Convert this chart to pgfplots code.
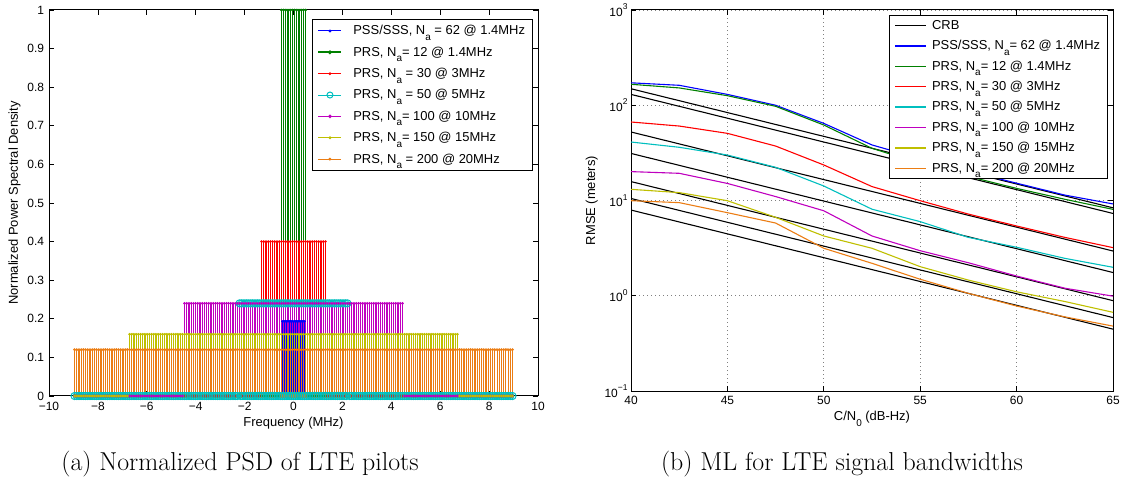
\documentclass[border=0pt]{standalone}
\usepackage{fontspec}
\setmainfont{Liberation Sans}
\newfontfamily\capfont{Latin Modern Roman}
\usepackage{pgfplots}
\usepackage{pgfplotstable}
\pgfplotsset{compat=1.18}

\definecolor{mblue}{rgb}{0,0,1}
\definecolor{mgreen}{rgb}{0,0.5,0}
\definecolor{mred}{rgb}{1,0,0}
\definecolor{mcyan}{rgb}{0,0.75,0.75}
\definecolor{mmag}{rgb}{0.75,0,0.75}
\definecolor{myel}{rgb}{0.75,0.75,0}
\definecolor{morange}{RGB}{235,125,20}

\newcommand{\sub}[1]{\raisebox{-5.5bp}{\fontsize{10}{10}\selectfont #1}}
\newcommand{\pw}[1]{10\raisebox{6.5bp}{\fontsize{8.5}{9}\selectfont #1}}

% PSS/SSS (1.4 MHz, 15 kHz spacing)
\pgfplotstableread[row sep=\\]{
f v\\
-0.465 0.1935\\ -0.450 0.1935\\ -0.435 0.1935\\ -0.420 0.1935\\ -0.405 0.1935\\
-0.390 0.1935\\ -0.375 0.1935\\ -0.360 0.1935\\ -0.345 0.1935\\ -0.330 0.1935\\
-0.315 0.1935\\ -0.300 0.1935\\ -0.285 0.1935\\ -0.270 0.1935\\ -0.255 0.1935\\
-0.240 0.1935\\ -0.225 0.1935\\ -0.210 0.1935\\ -0.195 0.1935\\ -0.180 0.1935\\
-0.165 0.1935\\ -0.150 0.1935\\ -0.135 0.1935\\ -0.120 0.1935\\ -0.105 0.1935\\
-0.090 0.1935\\ -0.075 0.1935\\ -0.060 0.1935\\ -0.045 0.1935\\ -0.030 0.1935\\
-0.015 0.1935\\
0.015 0.1935\\ 0.030 0.1935\\ 0.045 0.1935\\ 0.060 0.1935\\ 0.075 0.1935\\
0.090 0.1935\\ 0.105 0.1935\\ 0.120 0.1935\\ 0.135 0.1935\\ 0.150 0.1935\\
0.165 0.1935\\ 0.180 0.1935\\ 0.195 0.1935\\ 0.210 0.1935\\ 0.225 0.1935\\
0.240 0.1935\\ 0.255 0.1935\\ 0.270 0.1935\\ 0.285 0.1935\\ 0.300 0.1935\\
0.315 0.1935\\ 0.330 0.1935\\ 0.345 0.1935\\ 0.360 0.1935\\ 0.375 0.1935\\
0.390 0.1935\\ 0.405 0.1935\\ 0.420 0.1935\\ 0.435 0.1935\\ 0.450 0.1935\\
0.465 0.1935\\
}\tpss

% PRS on the 90 kHz grid: columns 1.4, 3, 5, 10, 15, 20 MHz
\pgfplotstableread[row sep=\\]{
f g r c m yl o\\
-8.955 0 0 0 0 0 .12\\ -8.865 0 0 0 0 0 .12\\ -8.775 0 0 0 0 0 .12\\ -8.685 0 0 0 0 0 .12\\ -8.595 0 0 0 0 0 .12\\
-8.505 0 0 0 0 0 .12\\ -8.415 0 0 0 0 0 .12\\ -8.325 0 0 0 0 0 .12\\ -8.235 0 0 0 0 0 .12\\ -8.145 0 0 0 0 0 .12\\
-8.055 0 0 0 0 0 .12\\ -7.965 0 0 0 0 0 .12\\ -7.875 0 0 0 0 0 .12\\ -7.785 0 0 0 0 0 .12\\ -7.695 0 0 0 0 0 .12\\
-7.605 0 0 0 0 0 .12\\ -7.515 0 0 0 0 0 .12\\ -7.425 0 0 0 0 0 .12\\ -7.335 0 0 0 0 0 .12\\ -7.245 0 0 0 0 0 .12\\
-7.155 0 0 0 0 0 .12\\ -7.065 0 0 0 0 0 .12\\ -6.975 0 0 0 0 0 .12\\ -6.885 0 0 0 0 0 .12\\ -6.795 0 0 0 0 0 .12\\
-6.705 0 0 0 0 .16 .12\\ -6.615 0 0 0 0 .16 .12\\ -6.525 0 0 0 0 .16 .12\\ -6.435 0 0 0 0 .16 .12\\ -6.345 0 0 0 0 .16 .12\\
-6.255 0 0 0 0 .16 .12\\ -6.165 0 0 0 0 .16 .12\\ -6.075 0 0 0 0 .16 .12\\ -5.985 0 0 0 0 .16 .12\\ -5.895 0 0 0 0 .16 .12\\
-5.805 0 0 0 0 .16 .12\\ -5.715 0 0 0 0 .16 .12\\ -5.625 0 0 0 0 .16 .12\\ -5.535 0 0 0 0 .16 .12\\ -5.445 0 0 0 0 .16 .12\\
-5.355 0 0 0 0 .16 .12\\ -5.265 0 0 0 0 .16 .12\\ -5.175 0 0 0 0 .16 .12\\ -5.085 0 0 0 0 .16 .12\\ -4.995 0 0 0 0 .16 .12\\
-4.905 0 0 0 0 .16 .12\\ -4.815 0 0 0 0 .16 .12\\ -4.725 0 0 0 0 .16 .12\\ -4.635 0 0 0 0 .16 .12\\ -4.545 0 0 0 0 .16 .12\\
-4.455 0 0 0 .24 .16 .12\\ -4.365 0 0 0 .24 .16 .12\\ -4.275 0 0 0 .24 .16 .12\\ -4.185 0 0 0 .24 .16 .12\\ -4.095 0 0 0 .24 .16 .12\\
-4.005 0 0 0 .24 .16 .12\\ -3.915 0 0 0 .24 .16 .12\\ -3.825 0 0 0 .24 .16 .12\\ -3.735 0 0 0 .24 .16 .12\\ -3.645 0 0 0 .24 .16 .12\\
-3.555 0 0 0 .24 .16 .12\\ -3.465 0 0 0 .24 .16 .12\\ -3.375 0 0 0 .24 .16 .12\\ -3.285 0 0 0 .24 .16 .12\\ -3.195 0 0 0 .24 .16 .12\\
-3.105 0 0 0 .24 .16 .12\\ -3.015 0 0 0 .24 .16 .12\\ -2.925 0 0 0 .24 .16 .12\\ -2.835 0 0 0 .24 .16 .12\\ -2.745 0 0 0 .24 .16 .12\\
-2.655 0 0 0 .24 .16 .12\\ -2.565 0 0 0 .24 .16 .12\\ -2.475 0 0 0 .24 .16 .12\\ -2.385 0 0 0 .24 .16 .12\\ -2.295 0 0 0 .24 .16 .12\\
-2.205 0 0 .24 .24 .16 .12\\ -2.115 0 0 .24 .24 .16 .12\\ -2.025 0 0 .24 .24 .16 .12\\ -1.935 0 0 .24 .24 .16 .12\\ -1.845 0 0 .24 .24 .16 .12\\
-1.755 0 0 .24 .24 .16 .12\\ -1.665 0 0 .24 .24 .16 .12\\ -1.575 0 0 .24 .24 .16 .12\\ -1.485 0 0 .24 .24 .16 .12\\ -1.395 0 0 .24 .24 .16 .12\\
-1.305 0 .4 .24 .24 .16 .12\\ -1.215 0 .4 .24 .24 .16 .12\\ -1.125 0 .4 .24 .24 .16 .12\\ -1.035 0 .4 .24 .24 .16 .12\\ -0.945 0 .4 .24 .24 .16 .12\\
-0.855 0 .4 .24 .24 .16 .12\\ -0.765 0 .4 .24 .24 .16 .12\\ -0.675 0 .4 .24 .24 .16 .12\\ -0.585 0 .4 .24 .24 .16 .12\\
-0.495 1 .4 .24 .24 .16 .12\\ -0.405 1 .4 .24 .24 .16 .12\\ -0.315 1 .4 .24 .24 .16 .12\\ -0.225 1 .4 .24 .24 .16 .12\\ -0.135 1 .4 .24 .24 .16 .12\\
-0.045 1 .4 .24 .24 .16 .12\\
0.045 1 .4 .24 .24 .16 .12\\ 0.135 1 .4 .24 .24 .16 .12\\ 0.225 1 .4 .24 .24 .16 .12\\ 0.315 1 .4 .24 .24 .16 .12\\ 0.405 1 .4 .24 .24 .16 .12\\
0.495 1 .4 .24 .24 .16 .12\\
0.585 0 .4 .24 .24 .16 .12\\ 0.675 0 .4 .24 .24 .16 .12\\ 0.765 0 .4 .24 .24 .16 .12\\ 0.855 0 .4 .24 .24 .16 .12\\ 0.945 0 .4 .24 .24 .16 .12\\
1.035 0 .4 .24 .24 .16 .12\\ 1.125 0 .4 .24 .24 .16 .12\\ 1.215 0 .4 .24 .24 .16 .12\\ 1.305 0 .4 .24 .24 .16 .12\\
1.395 0 0 .24 .24 .16 .12\\ 1.485 0 0 .24 .24 .16 .12\\ 1.575 0 0 .24 .24 .16 .12\\ 1.665 0 0 .24 .24 .16 .12\\ 1.755 0 0 .24 .24 .16 .12\\
1.845 0 0 .24 .24 .16 .12\\ 1.935 0 0 .24 .24 .16 .12\\ 2.025 0 0 .24 .24 .16 .12\\ 2.115 0 0 .24 .24 .16 .12\\ 2.205 0 0 .24 .24 .16 .12\\
2.295 0 0 0 .24 .16 .12\\ 2.385 0 0 0 .24 .16 .12\\ 2.475 0 0 0 .24 .16 .12\\ 2.565 0 0 0 .24 .16 .12\\ 2.655 0 0 0 .24 .16 .12\\
2.745 0 0 0 .24 .16 .12\\ 2.835 0 0 0 .24 .16 .12\\ 2.925 0 0 0 .24 .16 .12\\ 3.015 0 0 0 .24 .16 .12\\ 3.105 0 0 0 .24 .16 .12\\
3.195 0 0 0 .24 .16 .12\\ 3.285 0 0 0 .24 .16 .12\\ 3.375 0 0 0 .24 .16 .12\\ 3.465 0 0 0 .24 .16 .12\\ 3.555 0 0 0 .24 .16 .12\\
3.645 0 0 0 .24 .16 .12\\ 3.735 0 0 0 .24 .16 .12\\ 3.825 0 0 0 .24 .16 .12\\ 3.915 0 0 0 .24 .16 .12\\ 4.005 0 0 0 .24 .16 .12\\
4.095 0 0 0 .24 .16 .12\\ 4.185 0 0 0 .24 .16 .12\\ 4.275 0 0 0 .24 .16 .12\\ 4.365 0 0 0 .24 .16 .12\\ 4.455 0 0 0 .24 .16 .12\\
4.545 0 0 0 0 .16 .12\\ 4.635 0 0 0 0 .16 .12\\ 4.725 0 0 0 0 .16 .12\\ 4.815 0 0 0 0 .16 .12\\ 4.905 0 0 0 0 .16 .12\\
4.995 0 0 0 0 .16 .12\\ 5.085 0 0 0 0 .16 .12\\ 5.175 0 0 0 0 .16 .12\\ 5.265 0 0 0 0 .16 .12\\ 5.355 0 0 0 0 .16 .12\\
5.445 0 0 0 0 .16 .12\\ 5.535 0 0 0 0 .16 .12\\ 5.625 0 0 0 0 .16 .12\\ 5.715 0 0 0 0 .16 .12\\ 5.805 0 0 0 0 .16 .12\\
5.895 0 0 0 0 .16 .12\\ 5.985 0 0 0 0 .16 .12\\ 6.075 0 0 0 0 .16 .12\\ 6.165 0 0 0 0 .16 .12\\ 6.255 0 0 0 0 .16 .12\\
6.345 0 0 0 0 .16 .12\\ 6.435 0 0 0 0 .16 .12\\ 6.525 0 0 0 0 .16 .12\\ 6.615 0 0 0 0 .16 .12\\ 6.705 0 0 0 0 .16 .12\\
6.795 0 0 0 0 0 .12\\ 6.885 0 0 0 0 0 .12\\ 6.975 0 0 0 0 0 .12\\ 7.065 0 0 0 0 0 .12\\ 7.155 0 0 0 0 0 .12\\
7.245 0 0 0 0 0 .12\\ 7.335 0 0 0 0 0 .12\\ 7.425 0 0 0 0 0 .12\\ 7.515 0 0 0 0 0 .12\\ 7.605 0 0 0 0 0 .12\\
7.695 0 0 0 0 0 .12\\ 7.785 0 0 0 0 0 .12\\ 7.875 0 0 0 0 0 .12\\ 7.965 0 0 0 0 0 .12\\ 8.055 0 0 0 0 0 .12\\
8.145 0 0 0 0 0 .12\\ 8.235 0 0 0 0 0 .12\\ 8.325 0 0 0 0 0 .12\\ 8.415 0 0 0 0 0 .12\\ 8.505 0 0 0 0 0 .12\\
8.595 0 0 0 0 0 .12\\ 8.685 0 0 0 0 0 .12\\ 8.775 0 0 0 0 0 .12\\ 8.865 0 0 0 0 0 .12\\ 8.955 0 0 0 0 0 .12\\
}\tprs

% empty (zero) bins of the 5 MHz PRS between its pilots
\pgfplotstableread[row sep=\\]{
f v\\
-2.16 0\\ -2.07 0\\ -1.98 0\\ -1.89 0\\ -1.80 0\\ -1.71 0\\ -1.62 0\\ -1.53 0\\ -1.44 0\\ -1.35 0\\
-1.26 0\\ -1.17 0\\ -1.08 0\\ -0.99 0\\ -0.90 0\\ -0.81 0\\ -0.72 0\\ -0.63 0\\ -0.54 0\\ -0.45 0\\
-0.36 0\\ -0.27 0\\ -0.18 0\\ -0.09 0\\ 0 0\\ 0.09 0\\ 0.18 0\\ 0.27 0\\ 0.36 0\\ 0.45 0\\
0.54 0\\ 0.63 0\\ 0.72 0\\ 0.81 0\\ 0.90 0\\ 0.99 0\\ 1.08 0\\ 1.17 0\\ 1.26 0\\ 1.35 0\\
1.44 0\\ 1.53 0\\ 1.62 0\\ 1.71 0\\ 1.80 0\\ 1.89 0\\ 1.98 0\\ 2.07 0\\ 2.16 0\\
}\tczero

% RMSE vs C/N0
\pgfplotstableread[row sep=\\]{
x pss prs12 prs30 prs50 prs100 prs150 prs200\\
40   172  166  66.7 41.1 20.1 13.1 9.95\\
42.5 162  152  60.5 36.2 19.3 12.1 9.5\\
45   130  126  50.7 30.0 15.1 9.95 7.45\\
47.5 100  97.5 37.3 22.3 11.0 6.66 5.8\\
50   64.5 62   23.6 14.2 7.8  4.24 3.15\\
52.5 38.3 35.3 14.0 8.1  4.24 3.15 2.19\\
55   27.5 24.5 9.95 6.0  2.97 2.02 1.49\\
57.5 20.3 17.9 7.2  4.1  2.22 1.46 1.06\\
60   15.2 13.4 5.4  3.23 1.61 1.10 0.78\\
62.5 11.4 10.3 4.1  2.47 1.20 0.87 0.60\\
65   9.2  8.07 3.2  1.99 0.99 0.67 0.48\\
}\trmse

\pgfplotstableread[row sep=\\]{
x c1 c2 c3 c4 c5 c6 c7\\
40 149 130 52.4 31.2 15.8 10.5 7.94\\
65 8.38 7.31 2.95 1.754 0.888 0.590 0.446\\
}\tcrb

\begin{document}
\begin{tikzpicture}
\path[use as bounding box] (0bp,0bp) rectangle (1127bp,479bp);

% ---------------- (a) ----------------
\begin{axis}[
  at={(49bp,83bp)}, anchor=south west, scale only axis,
  width=489bp, height=386bp,
  xmin=-10, xmax=10, ymin=0, ymax=1,
  clip=false,
  xtick={-10,-8,-6,-4,-2,0,2,4,6,8,10},
  xticklabels={−10,−8,−6,−4,−2,0,2,4,6,8,10},
  ytick={0,0.1,0.2,0.3,0.4,0.5,0.6,0.7,0.8,0.9,1},
  yticklabels={0,0.1,0.2,0.3,0.4,0.5,0.6,0.7,0.8,0.9,1},
  tick align=inside, major tick length=5bp,
  axis line style={line width=1bp},
  every tick/.style={black, line width=0.7bp},
  ticklabel style={font=\fontsize{12}{14}\selectfont},
  xticklabel style={yshift=-2.5bp},
  yticklabel style={xshift=-1.5bp},
  label style={font=\fontsize{13}{15}\selectfont},
  xlabel={Frequency (MHz)},
  ylabel={Normalized Power Spectral Density},
  legend image code/.code={\draw[mark repeat=2,mark phase=2,#1] plot coordinates {(0bp,0bp) (11.5bp,0bp) (23bp,0bp)};},
  legend style={at={(rel axis cs:1,1)}, anchor=north east, xshift=-5.5bp, yshift=-9bp,
    draw=black, line width=1bp, fill=white,
    font=\fontsize{13}{15}\selectfont, inner xsep=5bp, inner ysep=4bp,
    row sep=6.5bp, cells={anchor=west},
    /tikz/every odd column/.append style={column sep=9bp}},
]
\addplot[ycomb, mblue, line width=0.45bp, mark=*, mark size=0.7bp, forget plot] table[x=f,y=v]{\tpss};
\addplot[ycomb, mgreen, line width=1.1bp, mark=*, mark size=0.7bp, forget plot] table[x=f,y=g]{\tprs};
\addplot[ycomb, mred, line width=1.1bp, mark=*, mark size=0.7bp, forget plot] table[x=f,y=r]{\tprs};
\addplot[ycomb, mcyan, line width=1.1bp, mark=o, mark size=3.6bp, mark options={line width=1bp}, forget plot] table[x=f,y=c]{\tprs};
\addplot[only marks, mcyan, mark=o, mark size=3.6bp, mark options={line width=1bp}, forget plot] table[x=f,y=v]{\tczero};
\addplot[ycomb, mmag, line width=1.1bp, mark=*, mark size=0.7bp, forget plot] table[x=f,y=m]{\tprs};
\addplot[ycomb, myel, line width=1.1bp, mark=*, mark size=0.7bp, forget plot] table[x=f,y=yl]{\tprs};
\addplot[ycomb, morange, line width=1.1bp, mark=*, mark size=0.8bp, forget plot] table[x=f,y=o]{\tprs};
\addplot[morange, line width=4bp, forget plot] coordinates {(-8.955,0) (8.955,0)};

\addlegendimage{mblue, line width=1bp, mark=*, mark size=0.9bp, mark phase=3, mark repeat=3}
\addlegendentry{PSS/SSS, N\sub{a} = 62 @ 1.4MHz}
\addlegendimage{mgreen, line width=1.8bp, mark=*, mark size=0.9bp, mark phase=3, mark repeat=3}
\addlegendentry{PRS, N\sub{a}= 12 @ 1.4MHz}
\addlegendimage{mred, line width=1bp, mark=*, mark size=0.9bp, mark phase=3, mark repeat=3}
\addlegendentry{PRS, N\sub{a} = 30 @ 3MHz}
\addlegendimage{mcyan, line width=1bp, mark=o, mark size=3bp, mark phase=3, mark repeat=3}
\addlegendentry{PRS, N\sub{a} = 50 @ 5MHz}
\addlegendimage{mmag, line width=1.5bp, mark=*, mark size=0.9bp, mark phase=3, mark repeat=3}
\addlegendentry{PRS, N\sub{a}= 100 @ 10MHz}
\addlegendimage{myel, line width=1bp, mark=*, mark size=0.9bp, mark phase=3, mark repeat=3}
\addlegendentry{PRS, N\sub{a}= 150 @ 15MHz}
\addlegendimage{morange, line width=1bp, mark=*, mark size=0.9bp, mark phase=3, mark repeat=3}
\addlegendentry{PRS, N\sub{a} = 200 @ 20MHz}
\end{axis}

% ---------------- (b) ----------------
\begin{axis}[
  at={(631bp,88bp)}, anchor=south west, scale only axis,
  width=482bp, height=381bp,
  xmin=40, xmax=65, ymode=log, log basis y=10, ymin=0.1, ymax=1000,
  xtick={40,45,50,55,60,65},
  xticklabels={40,45,50,55,60,65},
  ytick={0.1,1,10,100,1000},
  yticklabels={\pw{−1},\pw{0},\pw{1},\pw{2},\pw{3}},
  minor x tick num=0,
  grid=both,
  major grid style={gray, line width=0.7bp, dash pattern=on 0.8bp off 3.2bp},
  minor grid style={gray, line width=0.7bp, dash pattern=on 0.8bp off 3.2bp},
  tick align=inside, major tick length=5bp, minor tick length=3bp,
  axis line style={line width=1bp},
  every tick/.style={black, line width=0.7bp},
  ticklabel style={font=\fontsize{12}{14}\selectfont},
  xticklabel style={yshift=-1.5bp},
  label style={font=\fontsize{13}{15}\selectfont},
  xlabel={C/N\sub{0} (dB-Hz)},
  ylabel={RMSE (meters)},
  legend image code/.code={\draw[#1] (0bp,0bp) -- (31bp,0bp);},
  legend style={at={(rel axis cs:1,1)}, anchor=north east, xshift=-5.4bp, yshift=-5bp,
    draw=black, line width=1bp, fill=white,
    font=\fontsize{13}{15}\selectfont, inner xsep=5bp, inner ysep=3bp,
    row sep=5.5bp, cells={anchor=west},
    /tikz/every odd column/.append style={column sep=3bp}},
]
\addplot[black, line width=1.1bp, forget plot] table[x=x,y=c1]{\tcrb};
\addplot[black, line width=1.1bp, forget plot] table[x=x,y=c2]{\tcrb};
\addplot[black, line width=1.1bp, forget plot] table[x=x,y=c3]{\tcrb};
\addplot[black, line width=1.1bp, forget plot] table[x=x,y=c4]{\tcrb};
\addplot[black, line width=1.1bp, forget plot] table[x=x,y=c5]{\tcrb};
\addplot[black, line width=1.1bp, forget plot] table[x=x,y=c6]{\tcrb};
\addplot[black, line width=1.1bp, forget plot] table[x=x,y=c7]{\tcrb};
\addplot[mblue, line width=1.1bp, forget plot] table[x=x,y=pss]{\trmse};
\addplot[mgreen, line width=1.1bp, forget plot] table[x=x,y=prs12]{\trmse};
\addplot[mred, line width=1.1bp, forget plot] table[x=x,y=prs30]{\trmse};
\addplot[mcyan, line width=1.1bp, forget plot] table[x=x,y=prs50]{\trmse};
\addplot[mmag, line width=1.1bp, forget plot] table[x=x,y=prs100]{\trmse};
\addplot[myel, line width=1.1bp, forget plot] table[x=x,y=prs150]{\trmse};
\addplot[morange, line width=1.1bp, forget plot] table[x=x,y=prs200]{\trmse};

\addlegendimage{black, line width=1.1bp}
\addlegendentry{CRB}
\addlegendimage{mblue, line width=1.1bp}
\addlegendentry{PSS/SSS, N\sub{a}= 62 @ 1.4MHz}
\addlegendimage{mgreen, line width=1.1bp}
\addlegendentry{PRS, N\sub{a}= 12 @ 1.4MHz}
\addlegendimage{mred, line width=1.1bp}
\addlegendentry{PRS, N\sub{a}= 30 @ 3MHz}
\addlegendimage{mcyan, line width=1.1bp}
\addlegendentry{PRS, N\sub{a}= 50 @ 5MHz}
\addlegendimage{mmag, line width=1.1bp}
\addlegendentry{PRS, N\sub{a}= 100 @ 10MHz}
\addlegendimage{myel, line width=1.6bp}
\addlegendentry{PRS, N\sub{a}= 150 @ 15MHz}
\addlegendimage{morange, line width=1.1bp}
\addlegendentry{PRS, N\sub{a}= 200 @ 20MHz}
\end{axis}

\node[font=\capfont\fontsize{26}{30}\selectfont, anchor=base] at (240bp,9bp) {(a) Normalized PSD of LTE pilots};
\node[font=\capfont\fontsize{26}{30}\selectfont, anchor=base] at (842bp,9bp) {(b) ML for LTE signal bandwidths};
\end{tikzpicture}
\end{document}
